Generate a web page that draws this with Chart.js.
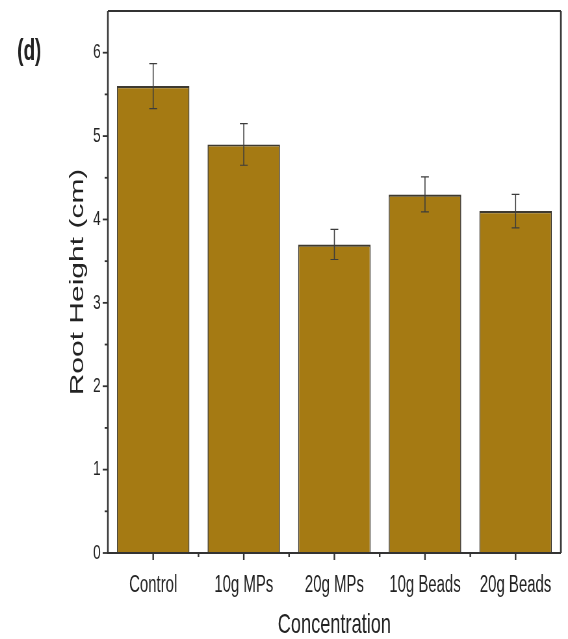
<!DOCTYPE html>
<html>
<head>
<meta charset="utf-8">
<title>Root Height</title>
<script src="https://cdn.jsdelivr.net/npm/chart.js@4/dist/chart.umd.min.js"></script>
<style>
  html, body { margin: 0; padding: 0; background: #fff; overflow: hidden; }
  #wrap { width: 874px; height: 639px; transform: scaleX(0.6499); transform-origin: 0 0; }
  canvas { display: block; }
</style>
</head>
<body>
<div id="wrap"><canvas id="c" width="874" height="639"></canvas></div>
<script>
// Root height per treatment (mean and standard deviation, cm)
const categories = ['Control', '10g MPs', '20g MPs', '10g Beads', '20g Beads'];
const rootHeight = [5.6, 4.9, 3.7, 4.3, 4.1];
const rootHeightSD = [0.27, 0.25, 0.18, 0.21, 0.20];
const yTickValues = [0, 1, 2, 3, 4, 5, 6];

const FONT = "'Liberation Sans', Arial, sans-serif";
const INK = '#222';

// Error bars, boxed frame and the hand-drawn tick marks
const decorations = {
  id: 'decorations',
  afterDatasetsDraw(chart) {
    const ctx = chart.ctx;
    const y = chart.scales.y;
    const meta = chart.getDatasetMeta(0);
    ctx.save();
    ctx.strokeStyle = '#3c3c3c';
    meta.data.forEach((bar, i) => {
      const top = y.getPixelForValue(rootHeight[i] + rootHeightSD[i]);
      const bot = y.getPixelForValue(rootHeight[i] - rootHeightSD[i]);
      ctx.lineWidth = 1.6;
      ctx.beginPath();
      ctx.moveTo(bar.x, top);
      ctx.lineTo(bar.x, bot);
      ctx.stroke();
      ctx.lineWidth = 1.2;
      ctx.beginPath();
      ctx.moveTo(bar.x - 6, top); ctx.lineTo(bar.x + 6, top);
      ctx.moveTo(bar.x - 6, bot); ctx.lineTo(bar.x + 6, bot);
      ctx.stroke();
    });
    ctx.restore();
  },
  afterDraw(chart) {
    const ctx = chart.ctx;
    const a = chart.chartArea;
    const y = chart.scales.y;
    const x = chart.scales.x;
    ctx.save();
    ctx.strokeStyle = '#333';
    // frame: top and right
    ctx.lineWidth = 2;
    ctx.beginPath();
    ctx.moveTo(a.left, a.top); ctx.lineTo(a.right, a.top);
    ctx.stroke();
    ctx.lineWidth = 2.6;
    ctx.beginPath();
    ctx.moveTo(a.right, a.top); ctx.lineTo(a.right, a.bottom);
    ctx.stroke();
    // left axis
    ctx.lineWidth = 2.6;
    ctx.beginPath();
    ctx.moveTo(a.left, a.top); ctx.lineTo(a.left, a.bottom + 1);
    ctx.stroke();
    // bottom axis
    ctx.lineWidth = 1.8;
    ctx.beginPath();
    ctx.moveTo(a.left, a.bottom); ctx.lineTo(a.right, a.bottom);
    ctx.stroke();
    // y ticks: majors at integers, minors halfway
    ctx.lineWidth = 1.8;
    y.ticks.forEach(t => {
      if (t.value > 6) return;
      const py = y.getPixelForValue(t.value);
      const major = Number.isInteger(t.value);
      ctx.beginPath();
      ctx.moveTo(a.left - (major ? 8 : 5), py);
      ctx.lineTo(a.left + (t.value === 0 ? 8 : 0), py);
      ctx.stroke();
    });
    // x ticks: majors at categories, minors at boundaries
    ctx.lineWidth = 2.4;
    categories.forEach((c, i) => {
      const px = x.getPixelForValue(i);
      ctx.beginPath();
      ctx.moveTo(px, a.bottom); ctx.lineTo(px, a.bottom + 7);
      ctx.stroke();
      if (i > 0) {
        const bx = (px + x.getPixelForValue(i - 1)) / 2;
        ctx.beginPath();
        ctx.moveTo(bx, a.bottom); ctx.lineTo(bx, a.bottom + 4);
        ctx.stroke();
      }
    });
    // panel letter
    ctx.fillStyle = INK;
    ctx.font = "bold 29px " + FONT;
    ctx.textAlign = 'center';
    ctx.textBaseline = 'middle';
    ctx.fillText('(d)', 45, 52);
    ctx.restore();
  }
};

new Chart(document.getElementById('c'), {
  type: 'bar',
  data: {
    labels: categories,
    datasets: [{
      data: rootHeight,
      backgroundColor: '#A57A13',
      borderColor: '#3e3a30',
      borderWidth: { top: 2.2, left: 1.6, right: 1.6, bottom: 0 },
      borderSkipped: 'bottom',
      categoryPercentage: 1,
      barPercentage: 0.8
    }]
  },
  options: {
    responsive: false,
    devicePixelRatio: 1,
    animation: false,
    layout: { padding: { left: 0, top: 11, right: 11, bottom: 0 } },
    plugins: { legend: { display: false }, tooltip: { enabled: false } },
    scales: {
      x: {
        grid: { display: false, drawTicks: false },
        border: { display: false },
        ticks: { color: INK, font: { family: FONT, size: 23 }, padding: 19, maxRotation: 0, autoSkip: false },
        title: { display: true, text: 'Concentration', color: INK,
                 font: { family: FONT, size: 28, lineHeight: 1 }, padding: 0 },
        afterFit: s => { s.height = 86; s.paddingLeft = 0; s.paddingRight = 0; }
      },
      y: {
        min: 0,
        max: 6.5,
        grid: { display: false, drawTicks: false },
        border: { display: false },
        ticks: {
          stepSize: 0.5,
          color: INK,
          font: { family: FONT, size: 21 },
          padding: 11,
          callback: v => (yTickValues.includes(v) ? String(v) : '')
        },
        title: { display: true, text: 'Root Height (cm)', color: INK,
                 font: { family: FONT, size: 30, lineHeight: 1.2 }, padding: { top: 102, bottom: 0 } },
        afterFit: s => { s.width = 166; s.paddingTop = 0; s.paddingBottom = 0; }
      }
    }
  },
  plugins: [decorations]
});
</script>
</body>
</html>
